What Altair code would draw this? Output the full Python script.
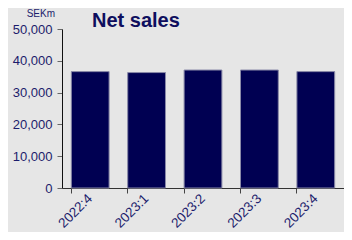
import altair as alt
import pandas as pd

quarters = ["2022:4", "2023:1", "2023:2", "2023:3", "2023:4"]
net_sales = [36600, 36300, 37100, 37100, 36600]
y_ticks = [0, 10000, 20000, 30000, 40000, 50000]

df = pd.DataFrame({"quarter": quarters, "sales": net_sales})

navy_text = "#1c1c6c"

bars = alt.Chart(df).mark_bar(
    color="#000052", stroke="#8a8aa8", strokeWidth=1
).encode(
    x=alt.X("quarter:N", sort=quarters, title=None,
            scale=alt.Scale(paddingInner=0.33, paddingOuter=0.165),
            axis=alt.Axis(labelAngle=-45, labelAlign="right", labelBaseline="middle",
                          labelPadding=3, bandPosition=0, tickColor="#444", tickSize=5,
                          domainColor="#333", labelFontSize=13.5,
                          labelColor=navy_text, labelFont="Liberation Sans")),
    y=alt.Y("sales:Q", title=None,
            scale=alt.Scale(domain=[0, 50000], nice=False),
            axis=alt.Axis(values=y_ticks, format=",d",
                          tickColor="#666", tickSize=5, domainColor="#111",
                          labelFontSize=13, labelColor=navy_text,
                          labelFont="Liberation Sans", labelPadding=5, grid=False)),
)

sekm = alt.Chart(pd.DataFrame({"t": ["SEKm"]})).mark_text(
    font="Liberation Sans", fontSize=10, color=navy_text, align="right", baseline="bottom"
).encode(text="t:N", x=alt.value(-7), y=alt.value(-10))

title = alt.Chart(pd.DataFrame({"t": ["Net sales"]})).mark_text(
    font="Liberation Sans", fontSize=20, fontWeight="bold", color="#0e0e5e",
    align="left", baseline="alphabetic"
).encode(text="t:N", x=alt.value(30), y=alt.value(-2))

final = (bars + sekm + title).properties(
    width=282, height=159,
    autosize=alt.AutoSizeParams(type="none"),
    padding={"left": 54, "top": 21, "right": 0, "bottom": 44},
    background="#e6e6e6",
).configure_view(stroke=None)

final.save("out.html", embed_options={"renderer": "svg", "actions": False})
